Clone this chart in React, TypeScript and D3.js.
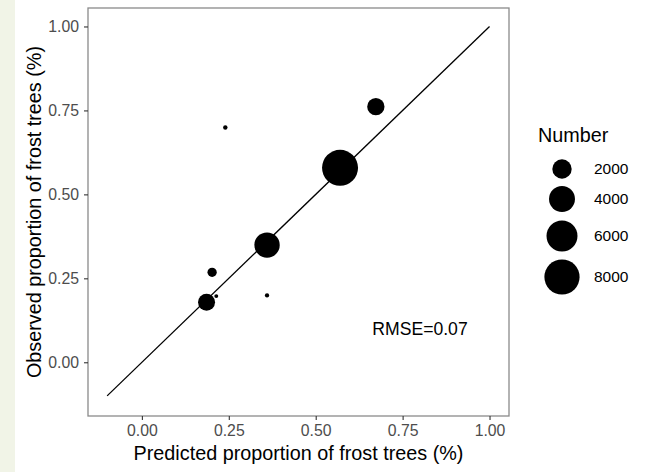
import { useRef, useEffect } from 'react';
import * as d3 from 'd3';

// values
const predicted = [0.57, 0.673, 0.24, 0.36, 0.202, 0.186, 0.214, 0.36];
const observed = [0.579, 0.761, 0.699, 0.349, 0.268, 0.179, 0.197, 0.199];
const counts = [8400, 1500, 5, 3800, 260, 1440, 1, 4];
const lineX = [-0.1, 1.0];
const lineY = [-0.1, 1.0];
const tickValues = [0, 0.25, 0.5, 0.75, 1];
const legendBreaks = [2000, 4000, 6000, 8000];
const rmseLabel = 'RMSE=0.07';

const FONT = '"Liberation Sans", Arial, sans-serif';

export default function App() {
  const svgRef = useRef<SVGSVGElement | null>(null);

  useEffect(() => {
    if (!svgRef.current) return;
    const svg = d3.select(svgRef.current);
    svg.selectAll('*').remove();

    const width = 648;
    const height = 472;
    const panel = { left: 88, right: 509, top: 8, bottom: 416 };

    svg.attr('width', width).attr('height', height).attr('viewBox', `0 0 ${width} ${height}`);
    svg.append('rect').attr('width', width).attr('height', height).attr('fill', 'white');

    // slide edge strip on the far left
    svg.append('rect').attr('x', 0).attr('y', 0).attr('width', 15).attr('height', height).attr('fill', '#f1f4e7');

    const x = d3.scaleLinear().domain([-0.155, 1.056]).range([panel.left, panel.right]);
    const y = d3.scaleLinear().domain([-0.16, 1.055]).range([panel.bottom, panel.top]);
    const r = d3.scaleSqrt().domain([0, 8000]).range([1.8, 17.6]);

    const fmt = d3.format('.2f');

    // 1:1 line
    const line = d3.line<number>()
      .x((_, i) => x(lineX[i]))
      .y((_, i) => y(lineY[i]));
    svg.append('path')
      .datum(lineX)
      .attr('fill', 'none')
      .attr('stroke', 'black')
      .attr('stroke-width', 1.3)
      .attr('d', line);

    // points
    svg.selectAll('.pt')
      .data(predicted.map((p, i) => ({ p, o: observed[i], n: counts[i] })))
      .join('circle')
      .attr('cx', d => x(d.p))
      .attr('cy', d => y(d.o))
      .attr('r', d => r(d.n))
      .attr('fill', 'black');

    svg.append('text')
      .attr('x', x(0.8))
      .attr('y', y(0.1))
      .attr('dy', '0.35em')
      .attr('text-anchor', 'middle')
      .attr('font-family', FONT)
      .attr('font-size', 17.6)
      .attr('fill', 'black')
      .text(rmseLabel);

    // panel border
    svg.append('rect')
      .attr('x', panel.left)
      .attr('y', panel.top)
      .attr('width', panel.right - panel.left)
      .attr('height', panel.bottom - panel.top)
      .attr('fill', 'none')
      .attr('stroke', '#8a8a8a')
      .attr('stroke-width', 1.3);

    // axes
    const xAxis = svg.append('g')
      .attr('transform', `translate(0,${panel.bottom})`)
      .call(d3.axisBottom(x).tickValues(tickValues).tickFormat(d => fmt(d as number)).tickSize(4).tickPadding(5));
    const yAxis = svg.append('g')
      .attr('transform', `translate(${panel.left},0)`)
      .call(d3.axisLeft(y).tickValues(tickValues).tickFormat(d => fmt(d as number)).tickSize(4).tickPadding(5));
    [xAxis, yAxis].forEach(a => {
      a.select('.domain').remove();
      a.selectAll('line').attr('stroke', '#333333').attr('stroke-width', 1.1);
      a.selectAll('text').attr('font-family', FONT).attr('font-size', 15.8).attr('fill', '#4d4d4d');
    });

    // axis titles
    svg.append('text')
      .attr('x', (panel.left + panel.right) / 2)
      .attr('y', 460)
      .attr('text-anchor', 'middle')
      .attr('font-family', FONT)
      .attr('font-size', 19.8)
      .attr('fill', 'black')
      .text('Predicted proportion of frost trees (%)');

    svg.append('text')
      .attr('transform', `translate(41,${(panel.top + panel.bottom) / 2}) rotate(-90)`)
      .attr('text-anchor', 'middle')
      .attr('font-family', FONT)
      .attr('font-size', 19.8)
      .attr('fill', 'black')
      .text('Observed proportion of frost trees (%)');

    // size legend
    const legend = svg.append('g');
    legend.append('text')
      .attr('x', 538)
      .attr('y', 142)
      .attr('font-family', FONT)
      .attr('font-size', 19.8)
      .attr('fill', 'black')
      .text('Number');
    const keyY = [169, 199, 236, 277];
    legend.selectAll('.key')
      .data(legendBreaks)
      .join('circle')
      .attr('cx', 562)
      .attr('cy', (_, i) => keyY[i])
      .attr('r', d => r(d))
      .attr('fill', 'black');
    legend.selectAll('.lab')
      .data(legendBreaks)
      .join('text')
      .attr('x', 594)
      .attr('y', (_, i) => keyY[i])
      .attr('dy', '0.35em')
      .attr('font-family', FONT)
      .attr('font-size', 15.5)
      .attr('fill', 'black')
      .text(d => String(d));
  }, []);

  return (
    <svg ref={svgRef} style={{ position: 'absolute', left: 0, top: 0, display: 'block' }} />
  );
}
